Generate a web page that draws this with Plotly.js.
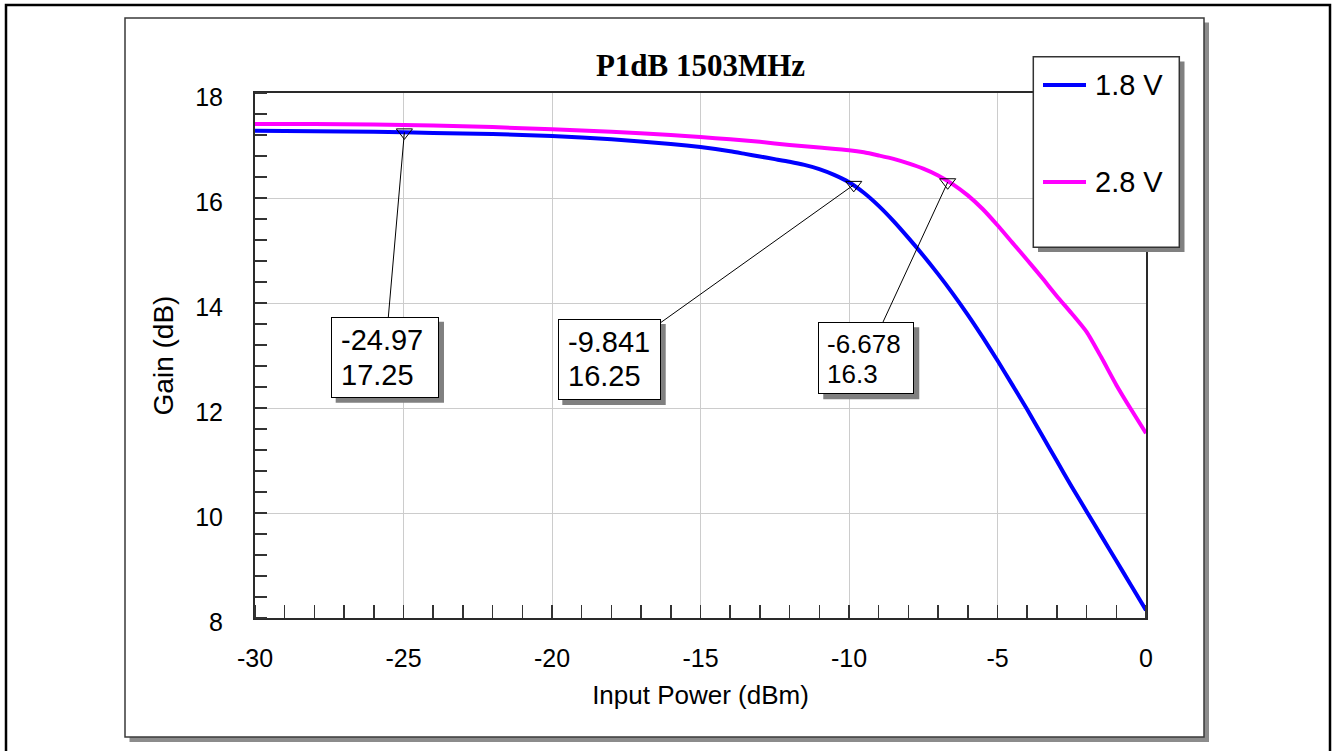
<!DOCTYPE html>
<html>
<head>
<meta charset="utf-8">
<script src="https://cdn.plot.ly/plotly-3.0.1.min.js"></script>
<style>
  html, body { margin: 0; padding: 0; background: #fff; }
  #chart { width: 1333px; height: 751px; }
</style>
</head>
<body>
<div id="chart"></div>
<script>
// Gain compression sweep at 1503 MHz for two supply voltages
const seriesNames = ['1.8 V', '2.8 V'];
const seriesColors = ['#0000ff', '#ff00ff'];

// Input power (dBm)
const pin18 = [-30, -28, -26, -24, -22, -20, -18, -16, -15, -14, -13.5, -13, -12.5, -12, -11.5, -11, -10.5, -10, -9.5, -9, -8.5, -8, -7.5, -7, -6.5, -6, -5.5, -5, -4.5, -4, -3.5, -3, -2.5, -2, -1.5, -1, -0.5, 0];
// Gain (dB), 1.8 V supply
const gain18 = [17.28, 17.27, 17.26, 17.24, 17.22, 17.18, 17.12, 17.03, 16.97, 16.89, 16.84, 16.79, 16.74, 16.69, 16.63, 16.55, 16.44, 16.30, 16.10, 15.85, 15.56, 15.24, 14.905, 14.55, 14.175, 13.775, 13.35, 12.905, 12.44, 11.97, 11.48, 10.99, 10.50, 10.03, 9.56, 9.09, 8.62, 8.15];

const pin28 = [-30, -28, -26, -24, -22, -20, -18, -16, -15, -14, -13, -12, -11, -10, -9.5, -9, -8.5, -8, -7.5, -7, -6.5, -6, -5.5, -5, -4.5, -4, -3.5, -3, -2.5, -2, -1.5, -1, -0.5, 0];
// Gain (dB), 2.8 V supply
const gain28 = [17.41, 17.41, 17.40, 17.38, 17.35, 17.31, 17.26, 17.20, 17.16, 17.12, 17.07, 17.01, 16.96, 16.91, 16.87, 16.81, 16.745, 16.66, 16.56, 16.43, 16.26, 16.05, 15.79, 15.48, 15.15, 14.82, 14.48, 14.13, 13.80, 13.45, 12.96, 12.44, 11.97, 11.52];

// 1 dB compression markers
const markerPin = [-24.97, -9.841, -6.678];
const markerGain = [17.25, 16.25, 16.3];

// Axis tick labels
const xTickVals = [-30, -25, -20, -15, -10, -5, 0];
const xTickText = ['-30', '-25', '-20', '-15', '-10', '-5', '0'];
const yTickVals = [8, 10, 12, 14, 16, 18];
const yTickText = ['8', '10', '12', '14', '16', '18'];

// Plot-area placement in pixels
const PLOT = { left: 255, top: 93, width: 891, height: 525 };
const px2x = p => (p - PLOT.left) / PLOT.width;
const px2y = p => (PLOT.top + PLOT.height - p) / PLOT.height;
function rectPx(x0, y0, x1, y1, opts) {
  return Object.assign({
    type: 'rect', xref: 'paper', yref: 'paper',
    x0: px2x(x0), x1: px2x(x1), y0: px2y(y1), y1: px2y(y0)
  }, opts);
}

const FONT = 'Liberation Sans, Arial, sans-serif';

// Callout boxes: pixel offsets from the marker point (y grows downward)
const callouts = [
  { box: [-73.7, 184.3, 34.6, 265.3], textLeft: -62.7, lines: [207.6, 242.6], size: 29 },
  { box: [-296.4, 134.1, -193, 215.1], textLeft: -284.4, lines: [157.6, 190.9], size: 29 },
  { box: [-129.4, 140, -33.4, 212], textLeft: -119.4, lines: [162, 192], size: 26 }
];

const traces = [
  { x: pin18, y: gain18, name: seriesNames[0], mode: 'lines',
    line: { color: seriesColors[0], width: 4, shape: 'spline', smoothing: 0.6 }, showlegend: false, hoverinfo: 'skip' },
  { x: pin28, y: gain28, name: seriesNames[1], mode: 'lines',
    line: { color: seriesColors[1], width: 4, shape: 'spline', smoothing: 0.6 }, showlegend: false, hoverinfo: 'skip' },
  { x: markerPin, y: markerGain, mode: 'markers', showlegend: false, hoverinfo: 'skip',
    marker: { symbol: 'triangle-down-open', size: 14, color: '#000', line: { width: 1, color: '#000' } } }
];

const shapes = [
  // outer frame
  rectPx(6, 5, 1330, 770, { line: { color: '#000', width: 2.5 }, fillcolor: 'rgba(0,0,0,0)', layer: 'below' }),
  // panel shadow and panel
  rectPx(129.5, 22.5, 1209, 742, { line: { width: 0 }, fillcolor: '#8c8c8c', layer: 'below' }),
  rectPx(125, 18, 1204, 737, { line: { color: '#3a3a3a', width: 1.5 }, fillcolor: '#fff', layer: 'below' }),
  // legend shadow and box
  rectPx(1038, 61.5, 1184.5, 252, { line: { width: 0 }, fillcolor: '#808080', layer: 'above' }),
  rectPx(1033.3, 56.7, 1179.3, 247.3, { line: { color: '#333', width: 1.5 }, fillcolor: '#fff', layer: 'above' })
];

const annotations = [];
const legendRows = [85, 182];
seriesNames.forEach((name, i) => {
  shapes.push({
    type: 'line', xref: 'paper', yref: 'paper', layer: 'above',
    x0: px2x(1043), x1: px2x(1086), y0: px2y(legendRows[i]), y1: px2y(legendRows[i]),
    line: { color: seriesColors[i], width: 4 }
  });
  annotations.push({
    xref: 'paper', yref: 'paper', x: px2x(1093), y: px2y(legendRows[i]),
    xanchor: 'left', yanchor: 'middle', showarrow: false, text: name,
    font: { family: FONT, size: 29, color: '#000' }
  });
});

callouts.forEach((c, i) => {
  const [l, t, r, b] = c.box;
  shapes.push({
    type: 'rect', xref: 'x', yref: 'y', xsizemode: 'pixel', ysizemode: 'pixel',
    xanchor: markerPin[i], yanchor: markerGain[i],
    x0: l + 5, x1: r + 5, y0: -(b + 5), y1: -(t + 5),
    fillcolor: '#808080', line: { width: 0 }, layer: 'above'
  });
  annotations.push({
    x: markerPin[i], y: markerGain[i], xref: 'x', yref: 'y', text: ' ',
    showarrow: true, arrowhead: 0, arrowwidth: 1, arrowcolor: '#000', standoff: 0,
    ax: (l + r) / 2, ay: (t + b) / 2,
    width: (r - l) - 2, height: (b - t) - 2, borderpad: 0, borderwidth: 1,
    bordercolor: '#000', bgcolor: '#fff'
  });
  [String(markerPin[i]), String(markerGain[i])].forEach((txt, k) => {
    annotations.push({
      x: markerPin[i], y: markerGain[i], xref: 'x', yref: 'y', text: txt,
      showarrow: false, xanchor: 'left', yanchor: 'middle',
      xshift: c.textLeft - 3, yshift: -c.lines[k],
      font: { family: FONT, size: c.size, color: '#000' }
    });
  });
});

const layout = {
  width: 1333, height: 751,
  margin: { l: PLOT.left, r: 1333 - PLOT.left - PLOT.width, t: PLOT.top, b: 751 - PLOT.top - PLOT.height, pad: 0 },
  paper_bgcolor: '#fff', plot_bgcolor: '#fff',
  font: { family: FONT, color: '#000' },
  title: {
    text: 'P1dB 1503MHz', x: 0.5, xref: 'paper', xanchor: 'center',
    y: 1 - 65 / 751, yref: 'container', yanchor: 'middle',
    font: { family: 'Liberation Serif, Times New Roman, serif', size: 31, weight: 'bold', color: '#000' }
  },
  xaxis: {
    range: [-30, 0], tickmode: 'array', tickvals: xTickVals, ticktext: xTickText, ticks: '',
    showgrid: true, gridcolor: '#cccccc', gridwidth: 1, zeroline: false,
    showline: true, linecolor: '#2a2a2a', linewidth: 2, mirror: true,
    tickfont: { family: FONT, size: 25, color: '#000' }, ticklabelstandoff: 17,
    minor: { tickmode: 'linear', tick0: -30, dtick: 1, ticks: 'inside', ticklen: 13, tickcolor: '#333', tickwidth: 1.5, showgrid: false },
    title: { text: 'Input Power (dBm)', font: { family: FONT, size: 26, color: '#000' }, standoff: 15 }
  },
  yaxis: {
    range: [8, 18], tickmode: 'array', tickvals: yTickVals, ticktext: yTickText, ticks: '',
    showgrid: true, gridcolor: '#cccccc', gridwidth: 1, zeroline: false,
    showline: true, linecolor: '#2a2a2a', linewidth: 2, mirror: true,
    tickfont: { family: FONT, size: 25, color: '#000' }, ticklabelstandoff: 25, ticklabelshift: 4,
    minor: { tickmode: 'linear', tick0: 8, dtick: 0.4, ticks: 'inside', ticklen: 12, tickcolor: '#333', tickwidth: 1.5, showgrid: false },
    title: { text: 'Gain (dB)', font: { family: FONT, size: 28, color: '#000' }, standoff: 13 }
  },
  shapes: shapes,
  annotations: annotations
};

Plotly.newPlot('chart', traces, layout, { displayModeBar: false, staticPlot: true });
</script>
</body>
</html>
